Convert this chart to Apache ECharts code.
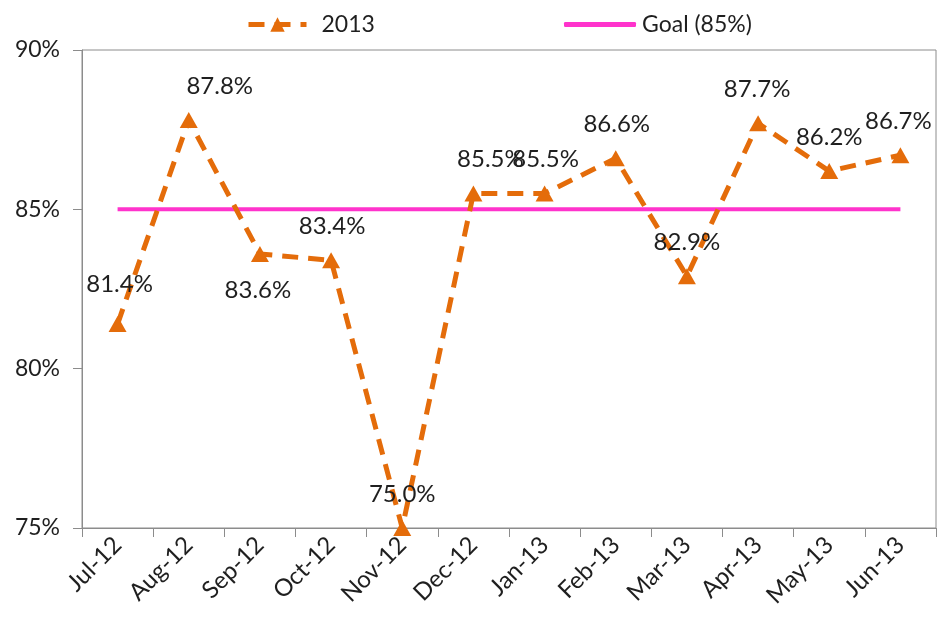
<!DOCTYPE html>
<html>
<head>
<meta charset="utf-8">
<script src="https://cdn.jsdelivr.net/npm/echarts@6/dist/echarts.min.js"></script>
<style>
  html, body { margin: 0; padding: 0; background: #fff; }
  #chart { width: 937px; height: 623px; }
</style>
</head>
<body>
<div id="chart"></div>
<script>
// Monthly compliance, fiscal year Jul-12 .. Jun-13
const months = ['Jul-12', 'Aug-12', 'Sep-12', 'Oct-12', 'Nov-12', 'Dec-12',
                'Jan-13', 'Feb-13', 'Mar-13', 'Apr-13', 'May-13', 'Jun-13'];
const rate2013 = [81.4, 87.8, 83.6, 83.4, 75.0, 85.5, 85.5, 86.6, 82.9, 87.7, 86.2, 86.7];
const goalValues = [85, 85, 85, 85, 85, 85, 85, 85, 85, 85, 85, 85];
const yTicks = [75, 80, 85, 90];

// per-point label placement (position + nudge)
const labelPlacement = [
  { position: 'top', offset: [2, -6] },
  { position: 'top', offset: [31, 0] },
  { position: 'bottom', offset: [-2, 2] },
  { position: 'top', offset: [1, 0] },
  { position: 'top', offset: [0, 0] },
  { position: 'top', offset: [17, 0] },
  { position: 'top', offset: [1, 0] },
  { position: 'top', offset: [1, 0] },
  { position: 'top', offset: [0, 0] },
  { position: 'top', offset: [-1, 0] },
  { position: 'top', offset: [0, 0] },
  { position: 'top', offset: [-2, 0] }
];

const FONT = 'Lato, "Open Sans", sans-serif';
const TEXT = '#1f1f1f';
const AXIS = '#8c8c8c';
const ORANGE = '#E46C0A';
const PINK = '#FF33CC';

const chart = echarts.init(document.getElementById('chart'), null, { renderer: 'canvas' });

chart.setOption({
  animation: false,
  textStyle: { fontFamily: FONT },
  legend: [
    {
      data: ['2013'],
      left: 241, top: 8,
      itemWidth: 58, itemHeight: 18,
      lineStyle: { width: 5 },
      textStyle: { fontSize: 23, color: TEXT, fontFamily: FONT, padding: [0, 0, 0, 10] }
    },
    {
      data: [{ name: 'Goal (85%)', icon: 'roundRect' }],
      left: 559, top: 8,
      itemWidth: 72, itemHeight: 5,
      itemStyle: { color: PINK, borderRadius: 3 },
      textStyle: { fontSize: 23, color: TEXT, fontFamily: FONT, padding: [0, 0, 0, 1] }
    }
  ],
  grid: {
    left: 82, right: 1, top: 50, bottom: 95,
    show: true, borderColor: AXIS, borderWidth: 1,
    containLabel: false
  },
  xAxis: {
    type: 'category',
    data: months,
    boundaryGap: true,
    axisLine: { lineStyle: { color: AXIS, width: 1 } },
    axisTick: { show: true, length: 9, lineStyle: { color: AXIS } },
    axisLabel: { rotate: 45, fontSize: 24, color: TEXT, fontFamily: FONT, margin: 13 }
  },
  yAxis: {
    type: 'value',
    min: yTicks[0], max: yTicks[yTicks.length - 1], interval: 5,
    axisLine: { show: true, lineStyle: { color: AXIS, width: 1 } },
    axisTick: { show: true, length: 9, lineStyle: { color: AXIS } },
    splitLine: { show: false },
    axisLabel: { fontSize: 23, color: TEXT, fontFamily: FONT, margin: 22, formatter: '{value}%' }
  },
  series: [
    {
      name: 'Goal (85%)',
      type: 'line',
      data: goalValues,
      symbol: 'none',
      z: 1,
      lineStyle: { color: PINK, width: 4 },
      itemStyle: { color: PINK }
    },
    {
      name: '2013',
      type: 'line',
      z: 2,
      data: rate2013.map((v, i) => ({
        value: v,
        label: labelPlacement[i]
      })),
      symbol: 'triangle',
      symbolSize: [18, 16],
      lineStyle: { color: ORANGE, width: 5, type: [16, 10], cap: 'butt' },
      itemStyle: { color: ORANGE },
      label: {
        show: true,
        distance: 14,
        fontSize: 24,
        color: TEXT,
        fontFamily: FONT,
        formatter: p => p.value.toFixed(1) + '%'
      }
    }
  ]
});
</script>
</body>
</html>
